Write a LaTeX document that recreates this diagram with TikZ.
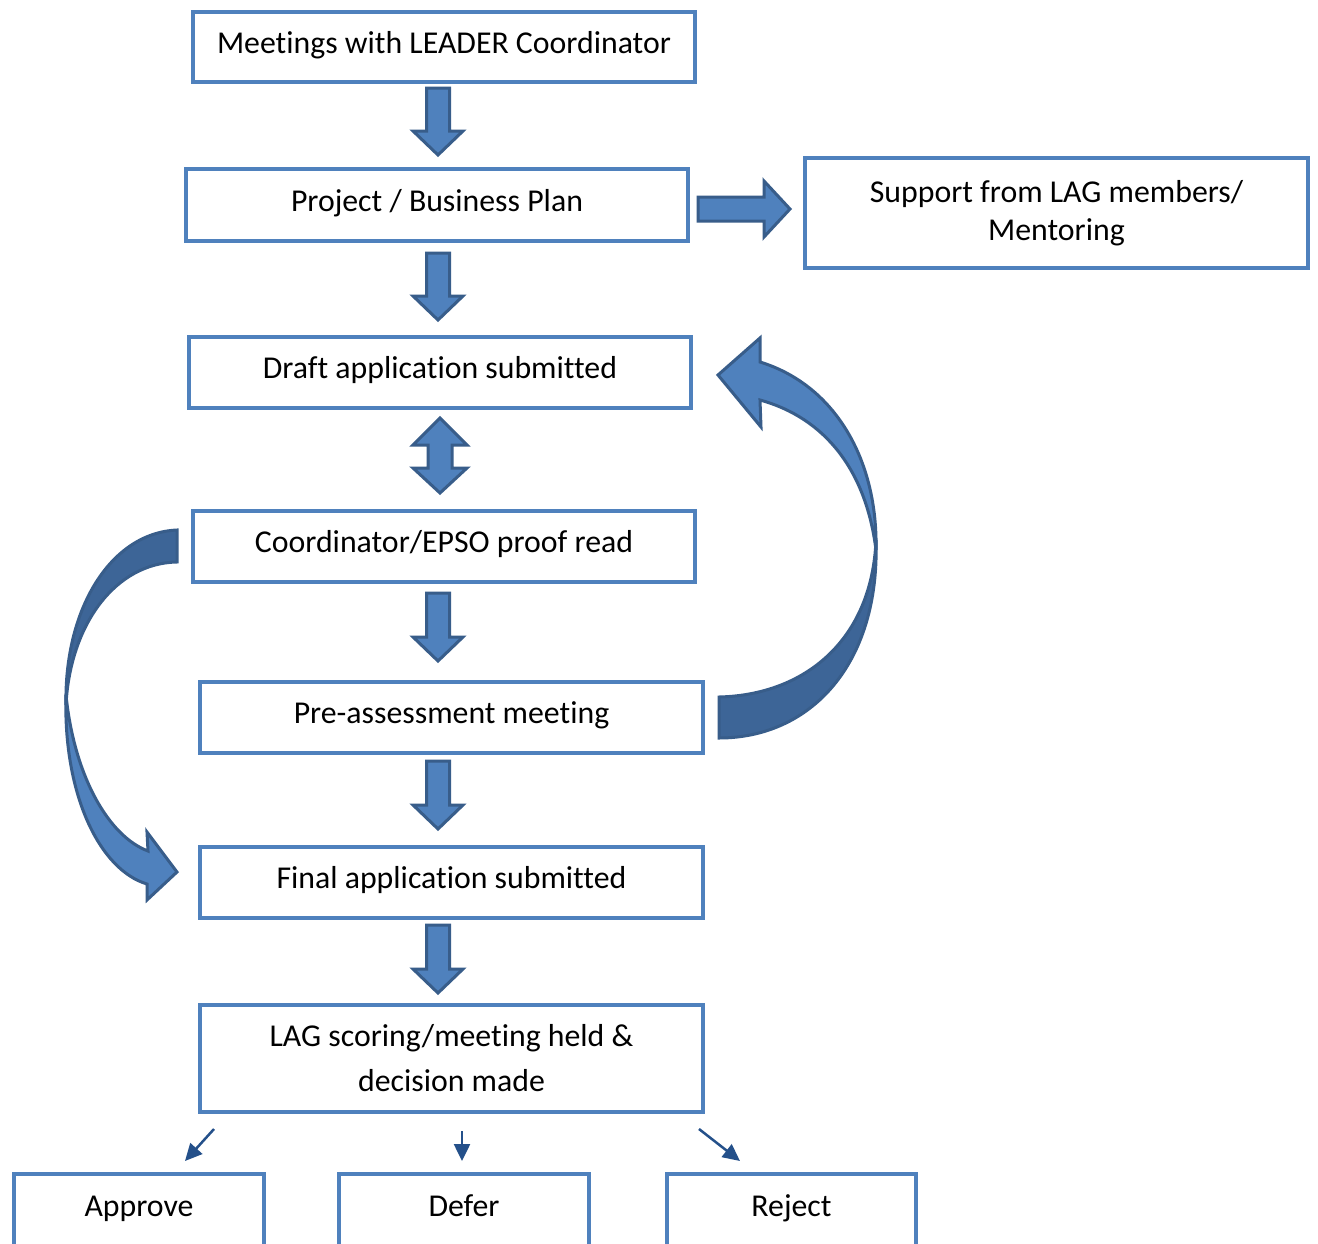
\documentclass[tikz,border=0pt]{standalone}
\usepackage{fontspec}
\setmainfont[Ligatures=NoCommon]{Carlito}
\usetikzlibrary{arrows.meta,calc}
\definecolor{boxblue}{HTML}{4F81BD}
\definecolor{arrowedge}{HTML}{385D8A}
\definecolor{arrowdark}{HTML}{3D6597}
\definecolor{thinarrow}{HTML}{24508A}
\newcommand\blkdn[4]{%
  \filldraw[blkarrow] (#1-11.5,#2) -- (#1+11.5,#2) -- (#1+11.5,#3-#4) -- (#1+25,#3-#4)
    -- (#1,#3) -- (#1-25,#3-#4) -- (#1-11.5,#3-#4) -- cycle;}
\begin{document}
\begin{tikzpicture}[x=1pt,y=-1pt,
  box/.style={draw=boxblue, line width=4pt, fill=white, inner sep=0pt,
    font=\fontsize{31.8}{38}\selectfont, align=center},
  onebox/.style={box, text height=23pt, text depth=11pt},
  blkarrow/.style={fill=boxblue, draw=arrowedge, line width=3pt, line join=miter},
  blkdarkarrow/.style={fill=arrowdark, draw=arrowedge, line width=3pt, line join=miter},
  thin/.style={draw=thinarrow, line width=2.5pt, -{Triangle[length=17pt,width=16pt]}}]
\clip (0,0) rectangle (1318,1243);
\fill[white] (0,0) rectangle (1318,1243);

% boxes
\node[onebox, minimum width=502pt, minimum height=70pt] (meet) at (444,47) {Meetings with LEADER Coordinator};
\node[onebox, minimum width=502pt, minimum height=72pt] (proj) at (437,205) {Project / Business Plan};
\node[box, minimum width=503pt, minimum height=110pt] (supp) at (1056.5,213) {Support from LAG members/\\Mentoring};
\node[onebox, minimum width=502pt, minimum height=71pt] (draft) at (440,372.5) {Draft application submitted};
\node[onebox, minimum width=502pt, minimum height=71pt] (coord) at (444,546.5) {Coordinator/EPSO proof read};
\node[onebox, minimum width=503pt, minimum height=71pt] (pre) at (451.5,717.5) {Pre-assessment meeting};
\node[onebox, minimum width=503pt, minimum height=71pt] (final) at (451.5,882.5) {Final application submitted};
\node[box, minimum width=503pt, minimum height=107pt, font=\fontsize{31.8}{45}\selectfont] (lag) at (451.5,1058.5) {LAG scoring/meeting held \&\\decision made};
\node[onebox, minimum width=250pt, minimum height=72pt] (appr) at (139,1210) {Approve};
\node[onebox, minimum width=250pt, minimum height=72pt] (defer) at (464,1210) {Defer};
\node[onebox, minimum width=249pt, minimum height=72pt] (rej) at (791.5,1210) {Reject};

% block arrows down
\blkdn{438}{88}{155}{24}
\blkdn{438}{253}{320}{24}
\blkdn{438}{593}{661}{24}
\blkdn{438}{761}{829}{24}
\blkdn{438}{925}{993}{24}

% double arrow
\filldraw[blkarrow] (440,418) -- (467,445) -- (452,445) -- (452,468) -- (467,468) -- (440,493)
  -- (413,468) -- (428,468) -- (428,445) -- (413,445) -- cycle;

% right arrow
\filldraw[blkarrow] (698,197) -- (764,197) -- (764,181) -- (790,209) -- (764,237) -- (764,221) -- (698,221) -- cycle;

% right curved arrow (pre-assessment back to draft)
\filldraw[blkdarkarrow] (876,540) .. controls (880,665) and (810,738) .. (719,738)
  -- (719,697) .. controls (805,695) and (872,640) .. (876,540) -- cycle;
\filldraw[blkarrow] (760,362) .. controls (835,385) and (878,460) .. (876,550)
  .. controls (866,470) and (825,418) .. (760,400)
  -- (761,427) -- (718,375) -- (760,338) -- cycle;

% left curved arrow (coordinator to final)
\filldraw[blkdarkarrow] (177,530) .. controls (110,533) and (64,610) .. (66,705)
  .. controls (70,625) and (115,563) .. (177,562) -- cycle;
\filldraw[blkarrow] (66,695) .. controls (63,795) and (100,870) .. (147,884)
  -- (147,900) -- (177,872) -- (147,832) -- (148,851)
  .. controls (108,836) and (74,775) .. (66,695) -- cycle;

% small arrows
\coordinate (a1s) at (214,1129); \coordinate (a1e) at (185,1161);
\coordinate (a2s) at (462,1131); \coordinate (a2e) at (462,1161);
\coordinate (a3s) at (699,1129); \coordinate (a3e) at (740,1161);
\draw[thin] (a1s) -- (a1e);
\draw[thin] (a2s) -- (a2e);
\draw[thin] (a3s) -- (a3e);
\end{tikzpicture}
\end{document}
